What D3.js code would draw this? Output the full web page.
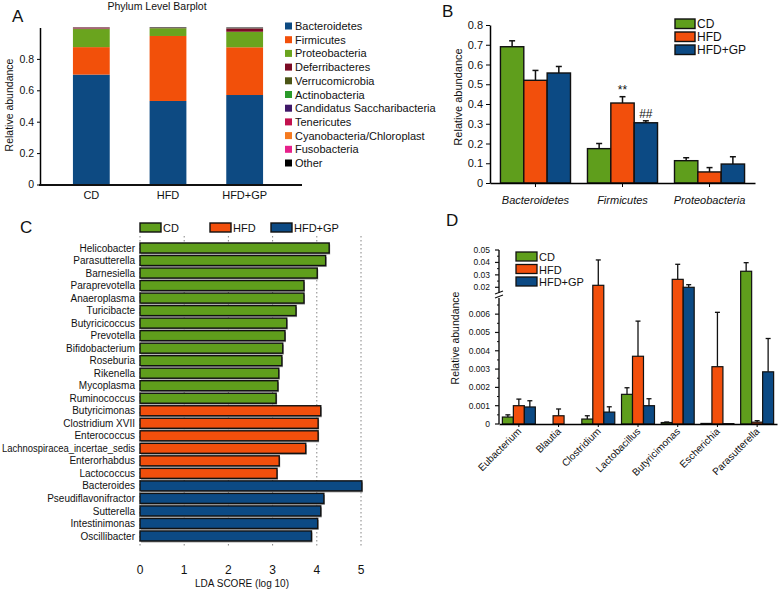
<!DOCTYPE html>
<html><head><meta charset="utf-8">
<script src="https://cdn.jsdelivr.net/npm/d3@7"></script>
<style>body{margin:0;background:#fff} svg text{font-family:"Liberation Sans",Arial,sans-serif;fill:#111}</style>
</head><body><svg id="c" width="778" height="590"></svg>
<script>
// ---------- Panel A data ----------
const phylumGroups = ["CD", "HFD", "HFD+GP"];
const phylumNames = ["Bacteroidetes","Firmicutes","Proteobacteria","Deferribacteres","Verrucomicrobia","Actinobacteria","Candidatus Saccharibacteria","Tenericutes","Cyanobacteria/Chloroplast","Fusobacteria","Other"];
const phylumColors = ["#0d4a82","#f2500a","#6aa41e","#7b0b24","#4b5516","#2a9a2a","#3f1868","#c2124e","#f57a20","#e6208a","#000000"];
const aBacteroidetes = [0.700, 0.532, 0.570];
const aFirmicutes = [0.175, 0.414, 0.304];
const aProteobacteria = [0.115, 0.049, 0.099];
const aDeferribacteres = [0.003, 0.001, 0.020];
const aVerrucomicrobia = [0.001, 0.001, 0.001];
const aActinobacteria = [0.0005, 0.0005, 0.0005];
const aCandidatus = [0.0005, 0.0005, 0.0005];
const aTenericutes = [0.004, 0.0005, 0.0005];
const aCyanobacteria = [0.0003, 0.0003, 0.0003];
const aFusobacteria = [0.0001, 0.0001, 0.0001];
const aOther = [0.002, 0.003, 0.004];
const aYTicks = [0, 0.2, 0.4, 0.6, 0.8];

// ---------- Panel B data ----------
const dietGroups = ["CD", "HFD", "HFD+GP"];
const dietColors = ["#5f9e1c", "#f24f0c", "#0c4a84"];
const bPhyla = ["Bacteroidetes", "Firmicutes", "Proteobacteria"];
const bMeanCD = [0.690, 0.174, 0.113];
const bErrCD = [0.030, 0.026, 0.015];
const bMeanHFD = [0.520, 0.405, 0.056];
const bErrHFD = [0.050, 0.032, 0.022];
const bMeanGP = [0.557, 0.305, 0.096];
const bErrGP = [0.033, 0.010, 0.037];
const bYTicks = [0, 0.1, 0.2, 0.3, 0.4, 0.5, 0.6, 0.7, 0.8];
const bMarks = [["Firmicutes", "HFD", "**"], ["Firmicutes", "HFD+GP", "##"]];

// ---------- Panel C data ----------
const ldaTaxa = ["Helicobacter","Parasutterella","Barnesiella","Paraprevotella","Anaeroplasma","Turicibacte","Butyricicoccus","Prevotella","Bifidobacterium","Roseburia","Rikenella","Mycoplasma","Ruminococcus","Butyricimonas","Clostridium XVII","Enterococcus","Lachnospiracea_incertae_sedis","Enterorhabdus","Lactococcus","Bacteroides","Pseudiflavonifractor","Sutterella","Intestinimonas","Oscillibacter"];
const ldaScores = [4.28,4.20,4.01,3.71,3.71,3.53,3.32,3.28,3.23,3.21,3.14,3.12,3.08,4.09,4.03,4.03,3.75,3.15,3.10,5.02,4.16,4.09,4.02,3.88];
const ldaGroup = ["CD","CD","CD","CD","CD","CD","CD","CD","CD","CD","CD","CD","CD","HFD","HFD","HFD","HFD","HFD","HFD","HFD+GP","HFD+GP","HFD+GP","HFD+GP","HFD+GP"];
const ldaTicks = [0, 1, 2, 3, 4, 5];

// ---------- Panel D data ----------
const dGenera = ["Eubacterium","Blautia","Clostridium","Lactobacillus","Butyricimonas","Escherichia","Parasutterella"];
const dMeanCD = [0.00038, 0, 0.00027, 0.00162, 0.00008, 0.00003, 0.0329];
const dErrCD = [0.00012, 0, 0.00018, 0.00036, 0.00003, 0, 0.0069];
const dMeanHFD = [0.00100, 0.00045, 0.0216, 0.0037, 0.0264, 0.00313, 0.00010];
const dErrHFD = [0.00036, 0.00037, 0.0204, 0.00192, 0.0121, 0.00297, 0.00008];
const dMeanGP = [0.00093, 0, 0.00065, 0.00100, 0.0200, 0.00002, 0.00285];
const dErrGP = [0.00034, 0, 0.00029, 0.00038, 0.0021, 0, 0.00182];
const dLowTicks = [0, 0.001, 0.002, 0.003, 0.004, 0.005, 0.006];
const dHighTicks = [0.02, 0.03, 0.04, 0.05];

const svg = d3.select("#c");
const F = '"Liberation Sans",Arial,sans-serif';

// ================= Panel A =================
(function(){
  const g = svg.append("g");
  g.append("text").attr("x", 12).attr("y", 22).attr("font-size", 17).text("A");
  g.append("text").attr("x", 157).attr("y", 10).attr("text-anchor", "middle").attr("font-size", 10.5).text("Phylum Level Barplot");
  const series = [aBacteroidetes,aFirmicutes,aProteobacteria,aDeferribacteres,aVerrucomicrobia,aActinobacteria,aCandidatus,aTenericutes,aCyanobacteria,aFusobacteria,aOther];
  const rows = phylumGroups.map((grp, i) => {
    const r = {group: grp};
    phylumNames.forEach((n, k) => r[n] = series[k][i]);
    return r;
  });
  const stack = d3.stack().keys(phylumNames)(rows);
  const x = d3.scaleBand().domain(phylumGroups).range([53, 283]).paddingInner(0.52).paddingOuter(0.26);
  const y = d3.scaleLinear().domain([0, 1]).range([184.5, 27.5]);
  const color = d3.scaleOrdinal().domain(phylumNames).range(phylumColors);
  stack.forEach(s => {
    g.selectAll(null).data(s).enter().append("rect")
      .attr("x", d => x(d.data.group)).attr("width", x.bandwidth())
      .attr("y", d => y(d[1])).attr("height", d => Math.max(0, y(d[0]) - y(d[1])))
      .attr("fill", color(s.key));
  });
  const ya = g.append("g").attr("transform", "translate(40,0)")
    .call(d3.axisLeft(y).tickValues(aYTicks).tickSize(3).tickSizeOuter(0).tickFormat(d => d === 0 ? "0" : d3.format(".1f")(d)));
  ya.select(".domain").attr("stroke-width", 1.5);
  ya.selectAll("text").attr("font-size", 10.5).attr("font-family", F);
  g.append("line").attr("x1", 39).attr("x2", 302).attr("y1", 185).attr("y2", 185).attr("stroke", "#111").attr("stroke-width", 2);
  g.selectAll(null).data(phylumGroups).enter().append("text")
    .attr("x", d => x(d) + x.bandwidth() / 2).attr("y", 199).attr("text-anchor", "middle").attr("font-size", 11).text(d => d);
  g.append("text").attr("transform", "translate(13,105) rotate(-90)").attr("text-anchor", "middle").attr("font-size", 10.5).text("Relative abundance");
  const lg = g.selectAll(null).data(phylumNames).enter().append("g")
    .attr("transform", (d, i) => `translate(285,${26 + i * 13.7})`);
  lg.append("rect").attr("x", 0).attr("y", -3.5).attr("width", 7).attr("height", 7).attr("fill", d => color(d));
  lg.append("text").attr("x", 10).attr("y", 4).attr("font-size", 11).text(d => d);
})();

// ================= Panel B =================
(function(){
  const g = svg.append("g");
  g.append("text").attr("x", 442).attr("y", 17).attr("font-size", 17).text("B");
  const x = d3.scaleBand().domain(bPhyla).range([490, 755]).paddingInner(0.195).paddingOuter(0.12);
  const xi = d3.scaleBand().domain(dietGroups).range([0, x.bandwidth()]);
  const y = d3.scaleLinear().domain([0, 0.8]).range([183, 25]);
  const means = [bMeanCD, bMeanHFD, bMeanGP], errs = [bErrCD, bErrHFD, bErrGP];
  const data = [];
  bPhyla.forEach((p, i) => dietGroups.forEach((gr, k) => data.push({p, gr, k, m: means[k][i], e: errs[k][i]})));
  data.forEach(d => {
    const cx = x(d.p) + xi(d.gr) + xi.bandwidth() / 2;
    g.append("line").attr("x1", cx).attr("x2", cx).attr("y1", y(d.m)).attr("y2", y(d.m + d.e)).attr("stroke", "#111").attr("stroke-width", 1.5);
    g.append("line").attr("x1", cx - 3).attr("x2", cx + 3).attr("y1", y(d.m + d.e)).attr("y2", y(d.m + d.e)).attr("stroke", "#111").attr("stroke-width", 1.5);
  });
  g.selectAll(null).data(data).enter().append("rect")
    .attr("x", d => x(d.p) + xi(d.gr)).attr("width", xi.bandwidth())
    .attr("y", d => y(d.m)).attr("height", d => y(0) - y(d.m))
    .attr("fill", d => dietColors[d.k]).attr("stroke", "#111").attr("stroke-width", 1.4);
  bMarks.forEach(([p, gr, t]) => {
    const d = data.find(v => v.p === p && v.gr === gr);
    g.append("text").attr("x", x(p) + xi(gr) + xi.bandwidth() / 2).attr("y", y(d.m + d.e) - 3)
      .attr("text-anchor", "middle").attr("font-size", 12).text(t);
  });
  const ya = g.append("g").attr("transform", "translate(490,0)")
    .call(d3.axisLeft(y).tickValues(bYTicks).tickSize(4).tickSizeOuter(0).tickFormat(d => d === 0 ? "0" : d3.format(".1f")(d)));
  ya.select(".domain").attr("stroke-width", 1.5);
  ya.selectAll("text").attr("font-size", 11).attr("font-family", F);
  const xa = g.append("g").attr("transform", "translate(0,183)")
    .call(d3.axisBottom(x).tickSize(4).tickSizeOuter(0).tickPadding(9));
  xa.select(".domain").attr("stroke-width", 1.5);
  xa.selectAll("text").attr("font-size", 11).attr("font-style", "italic").attr("font-family", F);
  g.append("text").attr("transform", "translate(462,97) rotate(-90)").attr("text-anchor", "middle").attr("font-size", 11).text("Relative abundance");
  const lg = g.selectAll(null).data(dietGroups).enter().append("g")
    .attr("transform", (d, i) => `translate(675,${19 + i * 13})`);
  lg.append("rect").attr("width", 20).attr("height", 9.5).attr("fill", (d, i) => dietColors[i]).attr("stroke", "#111").attr("stroke-width", 1.4);
  lg.append("text").attr("x", 22).attr("y", 9).attr("font-size", 12).text(d => d);
})();

// ================= Panel C =================
(function(){
  const g = svg.append("g");
  g.append("text").attr("x", 20).attr("y", 233).attr("font-size", 17).text("C");
  const x = d3.scaleLinear().domain([0, 5]).range([140, 361]);
  const y = d3.scaleBand().domain(ldaTaxa).range([241.74, 542.22]).paddingInner(0.2).paddingOuter(0.1);
  g.selectAll(null).data(ldaTicks).enter().append("line")
    .attr("x1", d => x(d)).attr("x2", d => x(d)).attr("y1", 236).attr("y2", 548)
    .attr("stroke", "#777").attr("stroke-width", 0.9).attr("stroke-dasharray", "1.5,2.5");
  const rows = ldaTaxa.map((t, i) => ({t, v: ldaScores[i], g: ldaGroup[i]}));
  g.selectAll(null).data(rows).enter().append("rect")
    .attr("x", x(0) + 1).attr("y", d => y(d.t) + 1.5).attr("width", d => x(d.v) - x(0)).attr("height", y.bandwidth())
    .attr("fill", "#999");
  g.selectAll(null).data(rows).enter().append("rect")
    .attr("x", x(0)).attr("y", d => y(d.t)).attr("width", d => x(d.v) - x(0)).attr("height", y.bandwidth())
    .attr("fill", d => dietColors[dietGroups.indexOf(d.g)]).attr("stroke", "#111").attr("stroke-width", 1.4);
  g.selectAll(null).data(rows).enter().append("text")
    .attr("x", 135).attr("y", d => y(d.t) + y.bandwidth() / 2 + 3.6).attr("text-anchor", "end").attr("font-size", 10).text(d => d.t)
    .each(function(){
      const w = this.getComputedTextLength();
      if (w > 133) d3.select(this).attr("textLength", 133).attr("lengthAdjust", "spacingAndGlyphs");
    });
  g.selectAll(null).data(ldaTicks).enter().append("text")
    .attr("x", d => x(d)).attr("y", 574).attr("text-anchor", "middle").attr("font-size", 12).text(d => d);
  g.append("text").attr("x", 242).attr("y", 587).attr("text-anchor", "middle").attr("font-size", 10).text("LDA SCORE (log 10)");
  const lx = [140, 210, 271];
  dietGroups.forEach((d, i) => {
    g.append("rect").attr("x", lx[i]).attr("y", 223).attr("width", 21).attr("height", 9).attr("fill", dietColors[i]).attr("stroke", "#111").attr("stroke-width", 1.4);
    g.append("text").attr("x", lx[i] + 23).attr("y", 232).attr("font-size", 11).text(d);
  });
})();

// ================= Panel D =================
(function(){
  const g = svg.append("g");
  g.append("text").attr("x", 446).attr("y", 226).attr("font-size", 17).text("D");
  const x = d3.scaleBand().domain(dGenera).range([499, 777]).paddingInner(0.17).paddingOuter(0.085);
  const xi = d3.scaleBand().domain(dietGroups).range([0, x.bandwidth()]);
  const y = d3.scaleLinear().domain([0, 0.0065, 0.013, 0.05]).range([424, 305, 296, 250]);
  const means = [dMeanCD, dMeanHFD, dMeanGP], errs = [dErrCD, dErrHFD, dErrGP];
  const data = [];
  dGenera.forEach((p, i) => dietGroups.forEach((gr, k) => data.push({p, gr, k, m: means[k][i], e: errs[k][i]})));
  data.filter(d => d.e > 0).forEach(d => {
    const cx = x(d.p) + xi(d.gr) + xi.bandwidth() / 2;
    g.append("line").attr("x1", cx).attr("x2", cx).attr("y1", y(d.m)).attr("y2", y(d.m + d.e)).attr("stroke", "#111").attr("stroke-width", 1.3);
    g.append("line").attr("x1", cx - 2.5).attr("x2", cx + 2.5).attr("y1", y(d.m + d.e)).attr("y2", y(d.m + d.e)).attr("stroke", "#111").attr("stroke-width", 1.3);
  });
  g.selectAll(null).data(data.filter(d => d.m > 0)).enter().append("rect")
    .attr("x", d => x(d.p) + xi(d.gr)).attr("width", xi.bandwidth())
    .attr("y", d => y(d.m)).attr("height", d => y(0) - y(d.m))
    .attr("fill", d => dietColors[d.k]).attr("stroke", "#111").attr("stroke-width", 1.2);
  g.append("line").attr("x1", 499).attr("x2", 499).attr("y1", 250).attr("y2", 293).attr("stroke", "#111").attr("stroke-width", 1.4);
  g.append("line").attr("x1", 499).attr("x2", 499).attr("y1", 298).attr("y2", 424).attr("stroke", "#111").attr("stroke-width", 1.4);
  g.append("line").attr("x1", 495).attr("x2", 503).attr("y1", 294).attr("y2", 291).attr("stroke", "#111").attr("stroke-width", 1.2);
  g.append("line").attr("x1", 495).attr("x2", 503).attr("y1", 298).attr("y2", 295).attr("stroke", "#111").attr("stroke-width", 1.2);
  const majors = dLowTicks.concat(dHighTicks);
  const minors = d3.range(0.0005, 0.0066, 0.001).concat([0.025, 0.035, 0.045]);
  g.selectAll(null).data(majors).enter().append("line")
    .attr("x1", 495).attr("x2", 499).attr("y1", d => y(d)).attr("y2", d => y(d)).attr("stroke", "#111").attr("stroke-width", 1.2);
  g.selectAll(null).data(minors).enter().append("line")
    .attr("x1", 497).attr("x2", 499).attr("y1", d => y(d)).attr("y2", d => y(d)).attr("stroke", "#111").attr("stroke-width", 1);
  g.selectAll(null).data(majors).enter().append("text")
    .attr("x", 490).attr("y", d => y(d) + 3).attr("text-anchor", "end").attr("font-size", 8.5)
    .text(d => d === 0 ? "0" : (d < 0.01 ? d3.format(".3f")(d) : d3.format(".2f")(d)));
  const xa = g.append("g").attr("transform", "translate(0,424)")
    .call(d3.axisBottom(x).tickSize(3).tickSizeOuter(0).tickFormat(""));
  xa.select(".domain").attr("stroke-width", 1.4);
  g.selectAll(null).data(dGenera).enter().append("text")
    .attr("transform", d => `translate(${x(d) + x.bandwidth() / 2 + 3},${432}) rotate(-45)`)
    .attr("text-anchor", "end").attr("font-size", 10).text(d => d);
  g.append("text").attr("transform", "translate(459,338) rotate(-90)").attr("text-anchor", "middle").attr("font-size", 10.5).text("Relative abundance");
  const lg = g.selectAll(null).data(dietGroups).enter().append("g")
    .attr("transform", (d, i) => `translate(516,${252 + i * 12.5})`);
  lg.append("rect").attr("width", 21).attr("height", 9).attr("fill", (d, i) => dietColors[i]).attr("stroke", "#111").attr("stroke-width", 1.3);
  lg.append("text").attr("x", 23).attr("y", 9).attr("font-size", 11).text(d => d);
})();
</script></body></html>
